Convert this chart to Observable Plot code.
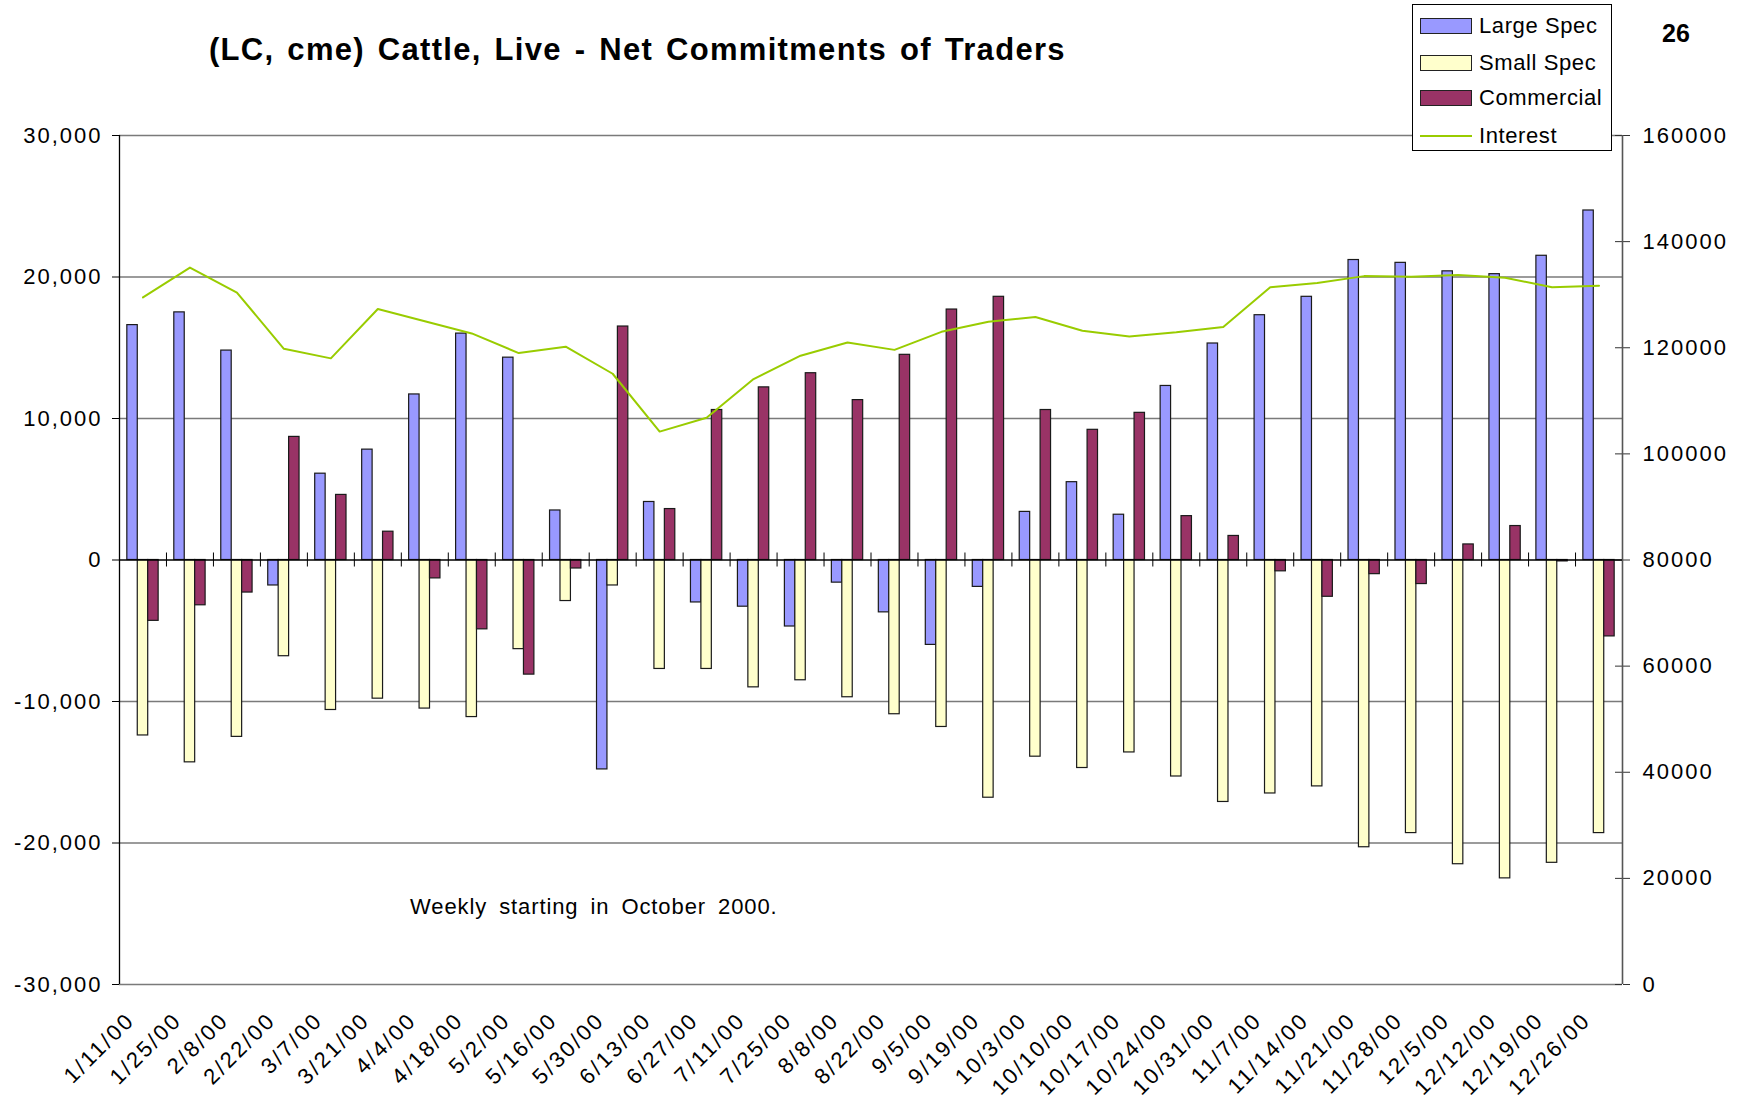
<!DOCTYPE html>
<html>
<head>
<meta charset="utf-8">
<script src="https://cdn.jsdelivr.net/npm/d3@7"></script>
<script src="https://cdn.jsdelivr.net/npm/@observablehq/plot@0.6"></script>
<style>
  body { margin: 0; background: #ffffff; }
  #wrap { position: relative; width: 1746px; height: 1105px; font-family: "Liberation Sans", Arial, sans-serif; color: #000; }
  #chart { position: absolute; left: 0; top: 0; }
  #chart svg text { letter-spacing: 2px; }
  #chart svg g[aria-label="x-axis tick label"] text { letter-spacing: 2.5px; }
  .abs { position: absolute; white-space: nowrap; line-height: 1; }
  #title { left: 209px; top: 34px; font-size: 31px; font-weight: bold; word-spacing: 3px; letter-spacing: 1.3px; }
  #page { left: 1662px; top: 21px; font-size: 25px; font-weight: bold; }
  #note { left: 410px; top: 896px; font-size: 22px; word-spacing: 5px; letter-spacing: 0.9px; }
  #legend { position: absolute; left: 1412px; top: 4px; width: 200px; height: 147px; border: 1px solid #000; box-sizing: border-box; background: #fff; }
  .item { position: absolute; left: 0; height: 22px; }
  .sw { position: absolute; left: 7px; width: 52px; height: 16px; top: 3px; border: 1px solid #222; box-sizing: border-box; }
  .ln { position: absolute; left: 7px; width: 52px; height: 2px; top: 10px; }
  .lab { position: absolute; left: 66px; top: 0; font-size: 22px; line-height: 22px; white-space: nowrap; letter-spacing: 0.6px; }
</style>
</head>
<body>
<div id="wrap">
  <div id="chart"></div>
  <div id="title" class="abs">(LC, cme) Cattle, Live - Net Commitments of Traders</div>
  <div id="page" class="abs">26</div>
  <div id="note" class="abs">Weekly starting in October 2000.</div>
  <div id="legend"></div>
</div>
<script>
// ---- data ----
const dates = ["1/11/00","1/25/00","2/8/00","2/22/00","3/7/00","3/21/00","4/4/00","4/18/00","5/2/00","5/16/00","5/30/00","6/13/00","6/27/00","7/11/00","7/25/00","8/8/00","8/22/00","9/5/00","9/19/00","10/3/00","10/10/00","10/17/00","10/24/00","10/31/00","11/7/00","11/14/00","11/21/00","11/28/00","12/5/00","12/12/00","12/19/00","12/26/00"];
const largeSpec = [16600, 17500, 14800, -1800, 6100, 7800, 11700, 16000, 14300, 3500, -14800, 4100, -3000, -3300, -4700, -1600, -3700, -6000, -1900, 3400, 5500, 3200, 12300, 15300, 17300, 18600, 21200, 21000, 20400, 20200, 21500, 24700];
const smallSpec = [-12400, -14300, -12500, -6800, -10600, -9800, -10500, -11100, -6300, -2900, -1800, -7700, -7700, -9000, -8500, -9700, -10900, -11800, -16800, -13900, -14700, -13600, -15300, -17100, -16500, -16000, -20300, -19300, -21500, -22500, -21400, -19300];
const commercial = [-4300, -3200, -2300, 8700, 4600, 2000, -1300, -4900, -8100, -600, 16500, 3600, 10600, 12200, 13200, 11300, 14500, 17700, 18600, 10600, 9200, 10400, 3100, 1700, -800, -2600, -1000, -1700, 1100, 2400, -100, -5400];
const interest = [129500, 135100, 130400, 119800, 118000, 127300, 125000, 122700, 119000, 120200, 115100, 104200, 106800, 114100, 118500, 121000, 119600, 123000, 124900, 125800, 123200, 122100, 122900, 123900, 131400, 132200, 133500, 133400, 133700, 133200, 131400, 131700];
const seriesNames = ["Large Spec", "Small Spec", "Commercial"];
const seriesColors = ["#9999FF", "#FFFFCC", "#993366"];
const interestColor = "#99CC00";
const leftTicks = [-30000, -20000, -10000, 0, 10000, 20000, 30000];
const rightTicks = [0, 20000, 40000, 60000, 80000, 100000, 120000, 140000, 160000];
const leftDomain = [-30000, 30000];
const rightDomain = [0, 160000];

// ---- build ----
const n = dates.length;
const seriesValues = [largeSpec, smallSpec, commercial];
const rows = [];
seriesValues.forEach((vals, k) => vals.forEach((v, i) => rows.push({i, k, series: seriesNames[k], value: v})));
// map right-axis values onto left scale
const toLeft = v => leftDomain[0] + (v - rightDomain[0]) / (rightDomain[1] - rightDomain[0]) * (leftDomain[1] - leftDomain[0]);
const interestRows = interest.map((v, i) => ({i, v}));
const groupPad = 1 / 6, barW = (1 - 2 * groupPad) / 3;
const fmtLeft = d => d3.format(",")(d).replace("\u2212", "-");

const chart = Plot.plot({
  width: 1746,
  height: 1105,
  marginLeft: 119,
  marginRight: 124,
  marginTop: 135,
  marginBottom: 121,
  style: {fontFamily: "'Liberation Sans', Arial, sans-serif", fontSize: "22px", background: "transparent", color: "#000"},
  x: {type: "linear", domain: [0, n], axis: null},
  y: {domain: leftDomain, axis: null},
  color: {domain: seriesNames, range: seriesColors},
  marks: [
    Plot.ruleY(leftTicks.filter(v => v !== 0), {stroke: "#7a7a7a", strokeWidth: 1.4}),
    Plot.axisY({anchor: "left", ticks: leftTicks, tickFormat: fmtLeft, tickSize: 7, tickPadding: 10, fontSize: 22, label: null, stroke: "#000"}),
    Plot.axisY({anchor: "right", ticks: rightTicks.map(toLeft), tickFormat: (d, j) => String(rightTicks[j]), tickSize: 7, tickPadding: 13, fontSize: 22, label: null, stroke: "#333"}),
    Plot.ruleY(rightTicks.map(toLeft), {x1: n, x2: n, insetLeft: -7, insetRight: 0, stroke: "#333"}),
    Plot.ruleX([0], {stroke: "#000", strokeWidth: 1.3}),
    Plot.ruleX([n], {stroke: "#555", strokeWidth: 1.6}),
    Plot.rectY(rows, {
      x1: d => d.i + groupPad + d.k * barW,
      x2: d => d.i + groupPad + (d.k + 1) * barW,
      y1: 0,
      y2: "value",
      fill: "series",
      stroke: "#1a1a1a",
      strokeWidth: 1.2
    }),
    Plot.ruleY([0], {stroke: "#000", strokeWidth: 1.3}),
    Plot.ruleX(d3.range(1, n), {y1: 0, y2: 0, insetTop: -7, insetBottom: -7, stroke: "#000", strokeWidth: 1}),
    Plot.line(interestRows, {x: d => d.i + 0.5, y: d => toLeft(d.v), stroke: interestColor, strokeWidth: 2}),
    Plot.axisX({anchor: "bottom", ticks: d3.range(n).map(i => i + 0.5), tickFormat: t => dates[Math.floor(t)], tickRotate: -45, tickSize: 0, tickPadding: 32, dx: -12, fontSize: 22, label: null})
  ]
});
document.getElementById("chart").appendChild(chart);

// ---- legend ----
const legend = document.getElementById("legend");
const items = seriesNames.map((s, k) => ({label: s, color: seriesColors[k], type: "box"}))
  .concat([{label: "Interest", color: interestColor, type: "line"}]);
const centers = [21, 58, 93, 131];
items.forEach((it, j) => {
  const el = document.createElement("div");
  el.className = "item";
  el.style.top = (centers[j] - 11) + "px";
  const sw = document.createElement("div");
  sw.className = it.type === "box" ? "sw" : "ln";
  sw.style.background = it.color;
  const lab = document.createElement("div");
  lab.className = "lab";
  lab.textContent = it.label;
  el.appendChild(sw); el.appendChild(lab);
  legend.appendChild(el);
});
</script>
</body>
</html>
